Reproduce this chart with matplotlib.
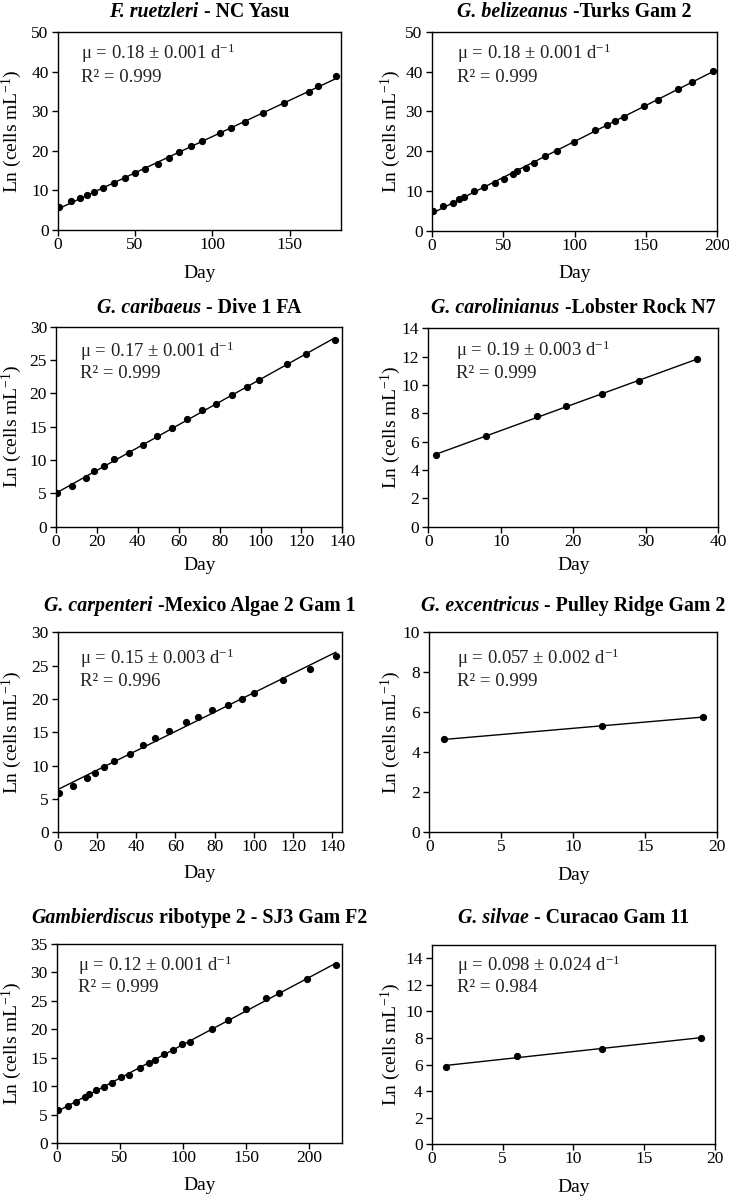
import numpy as np
import matplotlib
matplotlib.use("Agg")
import matplotlib.pyplot as plt

plt.rcParams['font.family'] = ['Liberation Serif', 'DejaVu Serif']
plt.rcParams['mathtext.fontset'] = 'custom'
plt.rcParams['mathtext.rm'] = 'Liberation Serif'
plt.rcParams['mathtext.it'] = 'Liberation Serif:italic'
plt.rcParams['mathtext.bf'] = 'Liberation Serif:bold'

# ---------------- data ----------------
p1_day = [0.9, 8.6, 14.6, 18.7, 23.6, 29.4, 36.5, 43.2, 50.1, 56.7, 64.9, 71.8, 78.7, 86.4,
          93.1, 105, 112.2, 121, 132.6, 146.6, 162.3, 168.3, 180.1]
p1_ln = [5.7, 7.3, 8.2, 8.8, 9.5, 10.5, 11.9, 13.2, 14.3, 15.5, 16.7, 18.3, 19.8, 21.3,
         22.5, 24.6, 25.7, 27.2, 29.5, 32.0, 34.8, 36.4, 39.0]

p2_day = [0.9, 8.2, 15.2, 19.1, 22.9, 29.9, 36.9, 44.1, 50.9, 56.7, 60, 65.8, 71.9, 79.6,
          87.5, 99.6, 114.6, 122.5, 128.6, 134.4, 148.4, 158.5, 172.3, 182.3, 197.2]
p2_ln = [4.9, 6.3, 7.0, 7.9, 8.5, 10.0, 11.0, 12.1, 13.1, 14.2, 14.9, 15.8, 17.1, 18.8,
         20.1, 22.4, 25.3, 26.5, 27.6, 28.6, 31.3, 32.9, 35.7, 37.3, 40.2]

p3_day = [0.6, 7.8, 14.6, 18.7, 23.6, 28.6, 35.6, 42.5, 49.5, 56.5, 64.3, 71.5, 78.3, 86.2,
          93.2, 99.1, 113.2, 122.1, 136.3]
p3_ln = [5.05, 6.15, 7.35, 8.3, 9.05, 10.1, 11.0, 12.3, 13.55, 14.85, 16.2, 17.5, 18.4, 19.8,
         20.95, 22.0, 24.35, 25.95, 28.0]

p4_day = [1, 8, 15, 19, 24, 29, 37]
p4_ln = [5.03, 6.4, 7.84, 8.52, 9.34, 10.28, 11.8]

p5_day = [0.7, 7.6, 14.7, 18.8, 23.7, 28.8, 36.8, 43.7, 49.7, 56.8, 65.6, 71.7, 78.6, 86.8,
          93.7, 99.8, 114.7, 128.6, 141.7]
p5_ln = [5.9, 6.95, 8.1, 8.85, 9.85, 10.65, 11.8, 13.15, 14.15, 15.25, 16.55, 17.35, 18.35,
         19.15, 20.05, 20.9, 22.85, 24.5, 26.4]

p6_day = [1, 12, 19]
p6_ln = [4.63, 5.3, 5.75]

p7_day = [1.3, 9, 15.3, 22.2, 25.9, 31.1, 37.2, 44.1, 51.2, 57.5, 66, 73.1, 78.1, 85, 92.1,
          99.2, 105.8, 123, 135.4, 149.6, 165.4, 176.3, 198.2, 221.1]
p7_ln = [5.75, 6.55, 7.25, 8.15, 8.7, 9.3, 9.9, 10.55, 11.65, 11.95, 13.25, 14.0, 14.6, 15.6,
         16.4, 17.35, 17.7, 20.0, 21.6, 23.55, 25.55, 26.4, 28.8, 31.3]

p8_day = [1, 6, 12, 19]
p8_ln = [5.83, 6.68, 7.18, 8.0]

titles = [
    [("F. ruetzleri", "bi"), (" - NC Yasu", "b")],
    [("G. belizeanus", "bi"), (" -Turks Gam 2", "b")],
    [("G. caribaeus", "bi"), (" - Dive 1 FA", "b")],
    [("G. carolinianus", "bi"), (" -Lobster Rock N7", "b")],
    [("G. carpenteri", "bi"), (" -Mexico Algae 2 Gam 1", "b")],
    [("G. excentricus", "bi"), (" - Pulley Ridge Gam 2", "b")],
    [("Gambierdiscus", "bi"), (" ribotype 2 - SJ3 Gam F2", "b")],
    [("G. silvae", "bi"), (" - Curacao Gam 11", "b")],
]
mu_labels = ["0.18 ± 0.001", "0.18 ± 0.001", "0.17 ± 0.001", "0.19 ± 0.003",
             "0.15 ± 0.003", "0.057 ± 0.002", "0.12 ± 0.001", "0.098 ± 0.024"]
r2_labels = ["0.999", "0.999", "0.999", "0.999", "0.996", "0.999", "0.999", "0.984"]

days = [p1_day, p2_day, p3_day, p4_day, p5_day, p6_day, p7_day, p8_day]
lns = [p1_ln, p2_ln, p3_ln, p4_ln, p5_ln, p6_ln, p7_ln, p8_ln]

xlims = [183, 200, 140, 40, 145, 20, 226, 20]
xticks = [[0, 50, 100, 150], [0, 50, 100, 150, 200], list(range(0, 141, 20)), [0, 10, 20, 30, 40],
          list(range(0, 141, 20)), [0, 5, 10, 15, 20], [0, 50, 100, 150, 200], [0, 5, 10, 15, 20]]
ylims = [50, 50, 30, 14, 30, 10, 35, 15]
yticks = [list(range(0, 51, 10)), list(range(0, 51, 10)), list(range(0, 31, 5)), list(range(0, 15, 2)),
          list(range(0, 31, 5)), list(range(0, 11, 2)), list(range(0, 36, 5)), list(range(0, 15, 2))]

# ---------------- layout (pixels) ----------------
W, H = 729, 1200
# left, right, top, bottom
boxes = [(57.7, 340.7, 32.3, 230.0), (431.7, 717.3, 31.7, 230.7),
         (56.0, 342.3, 326.7, 526.7), (428.3, 718.3, 328.3, 526.7),
         (57.7, 342.3, 632.3, 832.3), (429.3, 717.3, 631.7, 832.3),
         (56.7, 342.3, 944.0, 1143.0), (431.7, 715.0, 945.0, 1144.3)]
title_y = [12, 12, 308, 308, 606, 606, 918, 918]
day_y = [273, 273, 565, 566, 873, 875, 1185, 1187]
ylab_x = [24, 403, 24, 403, 24, 403, 24, 403]
txt_pos = [(81, 53, 77), (456.7, 53, 77), (80, 351.7, 373.3), (455.7, 350, 373),
           (80, 658, 682), (457.3, 658, 682), (77.7, 965, 988), (456.7, 965, 988)]

fig = plt.figure(figsize=(W / 100, H / 100), dpi=100)
renderer = fig.canvas.get_renderer()


def fx(px):
    return px / W


def fy(py):
    return 1 - py / H


for i in range(8):
    l, r, t, b = boxes[i]
    ax = fig.add_axes([fx(l), fy(b), (r - l) / W, (b - t) / H])
    x = np.array(days[i])
    y = np.array(lns[i])
    k, c = np.polyfit(x, y, 1)
    xf = np.array([x.min(), x.max()])
    ax.plot(xf, k * xf + c, color='black', lw=1.0, zorder=2)
    ax.plot(x, y, 'o', color='black', ms=4.2, zorder=3)
    ax.set_xlim(0, xlims[i])
    ax.set_ylim(0, ylims[i])
    ax.set_xticks(xticks[i])
    ax.set_yticks(yticks[i])
    ax.tick_params(direction='out', length=4.5, width=1, labelsize=12.5, pad=2,
                   top=False, right=False, colors='black')
    ax.tick_params(axis='x', pad=0.5)
    for s in ax.spines.values():
        s.set_linewidth(1.0)
        s.set_color('black')
    # y label
    ax.set_ylabel("Ln (cells mL$^{\\mathregular{-1}}$)", fontsize=14)
    ax.yaxis.set_label_coords((ylab_x[i] - l) / (r - l), 0.5)
    # x label
    fig.text(fx((l + r) / 2), fy(day_y[i]), "Day", fontsize=14, ha='center', va='center')
    # annotation
    tx, ty1, ty2 = txt_pos[i]
    fig.text(fx(tx), fy(ty1), "μ = " + mu_labels[i] + " d$^{\\mathregular{-1}}$",
             fontsize=13.5, ha='left', va='center', color='#222222')
    fig.text(fx(tx), fy(ty2), "R² = " + r2_labels[i],
             fontsize=13.5, ha='left', va='center', color='#222222')
    # rich title
    pieces = []
    for txt, st in titles[i]:
        tt = fig.text(0, fy(title_y[i]), txt, fontsize=14.3, fontweight='bold',
                      fontstyle='italic' if 'i' in st else 'normal', ha='left', va='center')
        pieces.append(tt)
    widths = [p.get_window_extent(renderer=renderer).width for p in pieces]
    total = sum(widths)
    start = (l + r) / 2 - total / 2
    for p, w in zip(pieces, widths):
        p.set_x(fx(start))
        start += w

fig.savefig("out.png", dpi=100)
